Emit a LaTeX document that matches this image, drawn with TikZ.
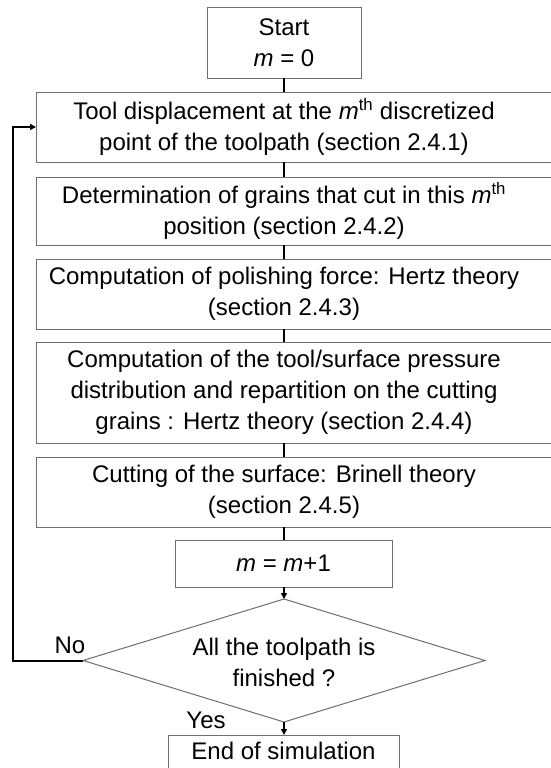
\documentclass[tikz,border=0pt]{standalone}
\usepackage{fontspec}
\setmainfont{Liberation Sans}
\usetikzlibrary{shapes.geometric,arrows.meta}
\definecolor{boxgray}{HTML}{6E6E6E}
\begin{document}
\begin{tikzpicture}[x=1pt,y=-1pt,
  font=\fontsize{24}{31}\selectfont,
  box/.style={draw=boxgray, line width=1pt, inner sep=0pt, outer sep=0pt, align=center},
  widebox/.style={box, anchor=west},
  conn/.style={line width=2pt, black},
  arr/.style={line width=1.6pt, black, -{Triangle[length=6pt,width=6pt]}},
  lbl/.style={inner sep=0pt}
]
\path[use as bounding box] (0,0) rectangle (551,768);
\clip (0,0) rectangle (551,768);

\node[box, minimum width=154, minimum height=70] (start) at (284,43) {Start\\\textit{m} = 0};

\node[widebox, minimum height=70] (b1) at (36,127)
  {\parbox{496pt}{\centering Tool displacement at the \textit{m}\textsuperscript{th} discretized\\ point of the toolpath (section 2.4.1)}\hspace{40pt}};
\node[widebox, minimum height=68] (b2) at (36,211)
  {\parbox{496pt}{\centering Determination of grains that cut in this \textit{m}\textsuperscript{th}\\ position (section 2.4.2)}\hspace{40pt}};
\node[widebox, minimum height=70] (b3) at (36,294)
  {\parbox{496pt}{\centering Computation of polishing force: Hertz theory\\ (section 2.4.3)}\hspace{40pt}};
\node[widebox, minimum height=101] (b4) at (36,392.5)
  {\parbox{496pt}{\centering Computation of the tool/surface pressure\\ distribution and repartition on the cutting\\ grains : Hertz theory (section 2.4.4)}\hspace{40pt}};
\node[widebox, minimum height=70] (b5) at (36,492)
  {\parbox{496pt}{\centering Cutting of the surface: Brinell theory\\ (section 2.4.5)}\hspace{40pt}};

\node[box, minimum width=217, minimum height=47] (mbox) at (283.5,563.5) {\textit{m} = \textit{m}+1};

\node[draw=boxgray, line width=1pt, diamond, minimum width=402, minimum height=123, inner sep=0pt, outer sep=0pt] (dec) at (284,660.5) {};
\node[align=center, inner sep=0pt] (dect) at (284,662) {All the toolpath is\\finished ?};

\node[box, anchor=north, minimum width=231, text height=24pt, text depth=40pt] (end) at (283.5,735) {End of simulation};

\node[lbl] (no) at (70,645) {No};
\node[lbl] (yes) at (206,720) {Yes};

\coordinate (lp) at (12.5,0);

\draw[conn] (start.south) -- (start.south |- b1.north);
\draw[conn] (start.south |- b1.south) -- (start.south |- b2.north);
\draw[conn] (start.south |- b2.south) -- (start.south |- b3.north);
\draw[conn] (start.south |- b3.south) -- (start.south |- b4.north);
\draw[conn] (start.south |- b4.south) -- (start.south |- b5.north);
\draw[conn] (start.south |- b5.south) -- (start.south |- mbox.north);
\draw[arr] (dec.north |- mbox.south) -- (dec.north);
\draw[arr] (dec.south) -- (dec.south |- end.north);
\draw[conn, -{Triangle[length=6pt,width=6pt]}] (dec.west) -- (dec.west -| lp) |- (b1.west);
\end{tikzpicture}
\end{document}
